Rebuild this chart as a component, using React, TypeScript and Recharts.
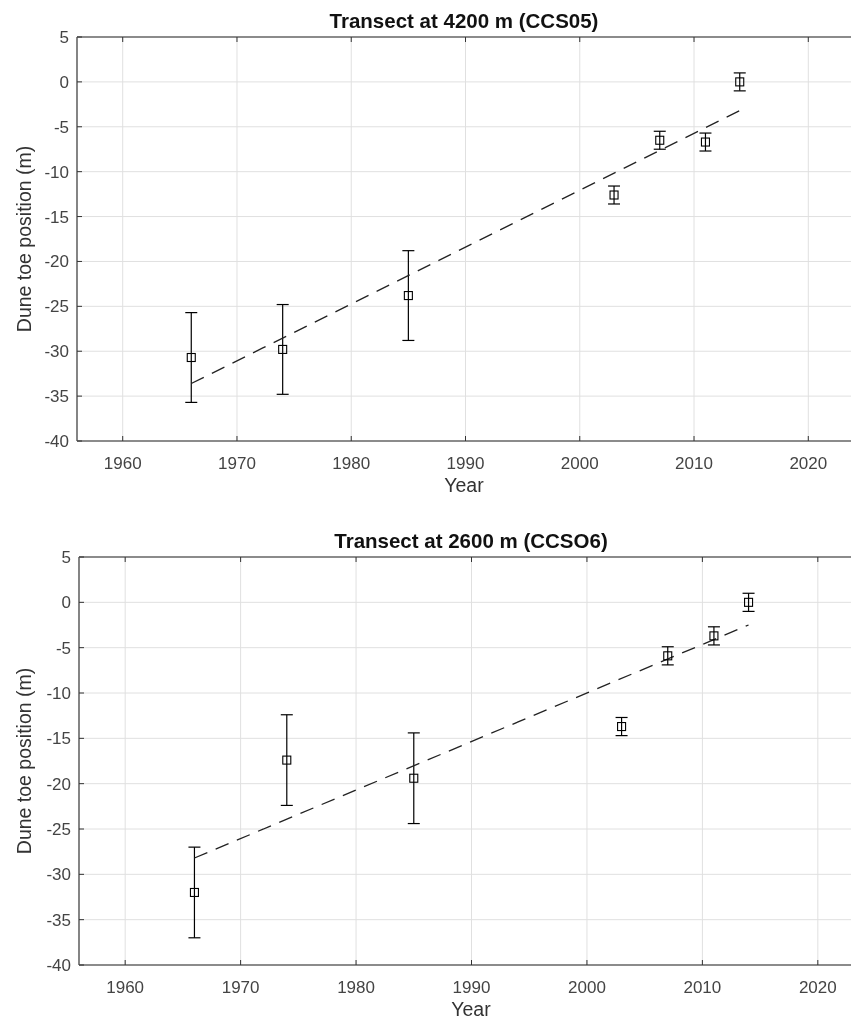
import React from "react";
import { ComposedChart, Scatter, XAxis, YAxis, CartesianGrid, ErrorBar } from "recharts";

// survey years shared by both transects
const years = [1966, 1974, 1985, 2003, 2007, 2011, 2014];

// Transect at 4200 m (CCS05)
const ccs05Position = [-30.7, -29.8, -23.8, -12.6, -6.5, -6.7, 0];
const ccs05Error = [5, 5, 5, 1, 1, 1, 1];
const ccs05Trend = [-33.6, -3.2];

// Transect at 2600 m (CCSO6)
const ccso6Position = [-32, -17.4, -19.4, -13.7, -5.9, -3.7, 0];
const ccso6Error = [5, 5, 5, 1, 1, 1, 1];
const ccso6Trend = [-28.2, -2.5];

const trendYears = [1966, 2014];

const xDomain = [1956, 2024];
const xTicks = [1960, 1970, 1980, 1990, 2000, 2010, 2020];
const yTicks = [5, 0, -5, -10, -15, -20, -25, -30, -35, -40];

const FONT = '"Liberation Sans", Arial, Helvetica, sans-serif';
const AXIS = { stroke: "#6a6a6a", strokeWidth: 1.6 };
const TICK = { stroke: "#333", strokeWidth: 1 };

const XTick = (props: any) => (
  <text x={props.x} y={props.y} textAnchor="middle" fontSize={17} fill="#444" fontFamily={FONT}>
    {props.payload.value}
  </text>
);

const YTick = (props: any) => (
  <text x={props.x} y={props.y} dy="0.35em" textAnchor="end" fontSize={17} fill="#444" fontFamily={FONT}>
    {props.payload.value}
  </text>
);

const EmptyTick = () => <g />;

const SquareMarker = (props: any) => (
  <rect x={props.cx - 4} y={props.cy - 4} width={8} height={8} fill="none" stroke="#000" strokeWidth={1.1} />
);

const NoMarker = () => <g />;

interface PanelProps {
  title: string;
  top: number;
  width: number;
  height: number;
  yAxisWidth: number;
  xAxisHeight: number;
  centerX: number;
  position: number[];
  error: number[];
  trend: number[];
}

function Panel({ title, top, width, height, yAxisWidth, xAxisHeight, centerX, position, error, trend }: PanelProps) {
  const points = years.map((year, i) => ({ year, pos: position[i], err: error[i] }));
  const trendLine = trendYears.map((year, i) => ({ year, pos: trend[i] }));
  const plotTop = 29;
  const plotBottom = height - xAxisHeight;

  return (
    <div style={{ position: "absolute", left: 0, top, width, height }}>
      <div
        style={{
          position: "absolute",
          left: centerX - 250,
          width: 500,
          top: 3,
          textAlign: "center",
          fontSize: 20.5,
          lineHeight: "20px",
          fontWeight: "bold",
          color: "#111",
        }}
      >
        {title}
      </div>
      <ComposedChart width={width} height={height} margin={{ top: 28, right: 0, bottom: 0, left: 0 }}>
        <CartesianGrid stroke="#e0e0e0" />
        <XAxis
          dataKey="year"
          type="number"
          domain={xDomain}
          ticks={xTicks}
          allowDataOverflow
          height={xAxisHeight}
          tickSize={-5}
          tickMargin={33}
          axisLine={AXIS}
          tickLine={TICK}
          tick={XTick}
          label={() => (
            <text x={centerX} y={plotBottom + 51} textAnchor="middle" fontSize={19.5} fill="#333" fontFamily={FONT}>
              Year
            </text>
          )}
        />
        <XAxis
          xAxisId="top"
          orientation="top"
          dataKey="year"
          type="number"
          domain={xDomain}
          ticks={xTicks}
          allowDataOverflow
          height={1}
          tickSize={-5}
          axisLine={AXIS}
          tickLine={TICK}
          tick={EmptyTick}
        />
        <YAxis
          type="number"
          domain={[-40, 5]}
          ticks={yTicks}
          width={yAxisWidth}
          tickSize={-5}
          tickMargin={13}
          axisLine={AXIS}
          tickLine={TICK}
          tick={YTick}
          label={() => {
            const cx = 16;
            const cy = (plotTop + plotBottom) / 2;
            return (
              <text
                x={cx}
                y={cy}
                dy="0.35em"
                transform={`rotate(-90, ${cx}, ${cy})`}
                textAnchor="middle"
                fontSize={19.5}
                fill="#333"
                fontFamily={FONT}
              >
                Dune toe position (m)
              </text>
            );
          }}
        />
        <YAxis
          yAxisId="right"
          orientation="right"
          type="number"
          domain={[-40, 5]}
          ticks={yTicks}
          width={1}
          tickSize={-5}
          axisLine={AXIS}
          tickLine={TICK}
          tick={EmptyTick}
        />
        <Scatter
          data={trendLine}
          dataKey="pos"
          isAnimationActive={false}
          shape={NoMarker}
          line={{ stroke: "#222", strokeWidth: 1.3, strokeDasharray: "14 9" }}
          lineType="joint"
        />
        <Scatter data={points} dataKey="pos" isAnimationActive={false} shape={SquareMarker}>
          <ErrorBar dataKey="err" direction="y" width={6} stroke="#000" strokeWidth={1.2} isAnimationActive={false} />
        </Scatter>
      </ComposedChart>
    </div>
  );
}

export default function App() {
  // fixed so the figure, which runs past the right edge like the original, adds no scrollbars
  return (
    <div style={{ position: "fixed", left: 8, top: 8, width: 860, height: 1013, fontFamily: FONT }}>
      <Panel
        title="Transect at 4200 m (CCS05)"
        top={0}
        width={847}
        height={490}
        yAxisWidth={69}
        xAxisHeight={57}
        centerX={456}
        position={ccs05Position}
        error={ccs05Error}
        trend={ccs05Trend}
      />
      <Panel
        title="Transect at 2600 m (CCSO6)"
        top={520}
        width={857}
        height={493}
        yAxisWidth={71}
        xAxisHeight={56}
        centerX={463}
        position={ccso6Position}
        error={ccso6Error}
        trend={ccso6Trend}
      />
    </div>
  );
}
